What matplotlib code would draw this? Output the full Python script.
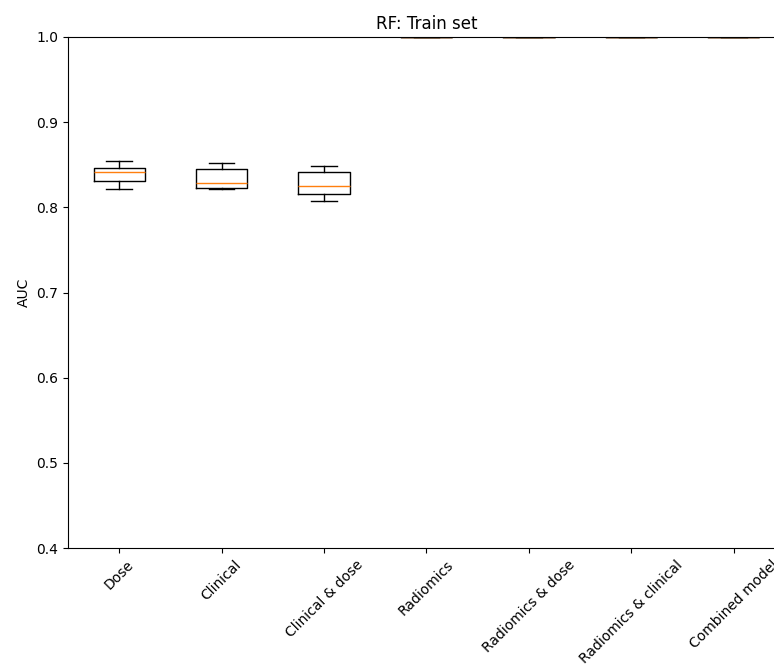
import matplotlib
matplotlib.use("Agg")
import matplotlib.pyplot as plt

# model names and the AUC summaries
models = ['Dose', 'Clinical', 'Clinical & dose', 'Radiomics',
          'Radiomics & dose', 'Radiomics & clinical', 'Combined model']
whislo = [0.821, 0.821, 0.8075, 1.0, 1.0, 1.0, 1.0]
q1 = [0.831, 0.8225, 0.816, 1.0, 1.0, 1.0, 1.0]
med = [0.841, 0.828, 0.825, 1.0, 1.0, 1.0, 1.0]
q3 = [0.846, 0.845, 0.841, 1.0, 1.0, 1.0, 1.0]
whishi = [0.854, 0.852, 0.849, 1.0, 1.0, 1.0, 1.0]

stats = []
for i in range(len(models)):
    stats.append({'label': models[i], 'whislo': whislo[i], 'q1': q1[i],
                  'med': med[i], 'q3': q3[i], 'whishi': whishi[i],
                  'fliers': []})

fig = plt.figure(figsize=(7.74, 6.68), dpi=100)
# axes runs a little past the right edge, like the cropped original
ax = fig.add_axes([68 / 774, 120 / 668, 717 / 774, 511 / 668])
ax.bxp(stats, showfliers=False)
ax.set_ylim(0.4, 1.0)
ax.set_yticks([0.4, 0.5, 0.6, 0.7, 0.8, 0.9, 1.0])
ax.set_ylabel('AUC')
ax.set_title('RF: Train set')
plt.setp(ax.get_xticklabels(), rotation=45)

fig.savefig('out.png', dpi=100)
